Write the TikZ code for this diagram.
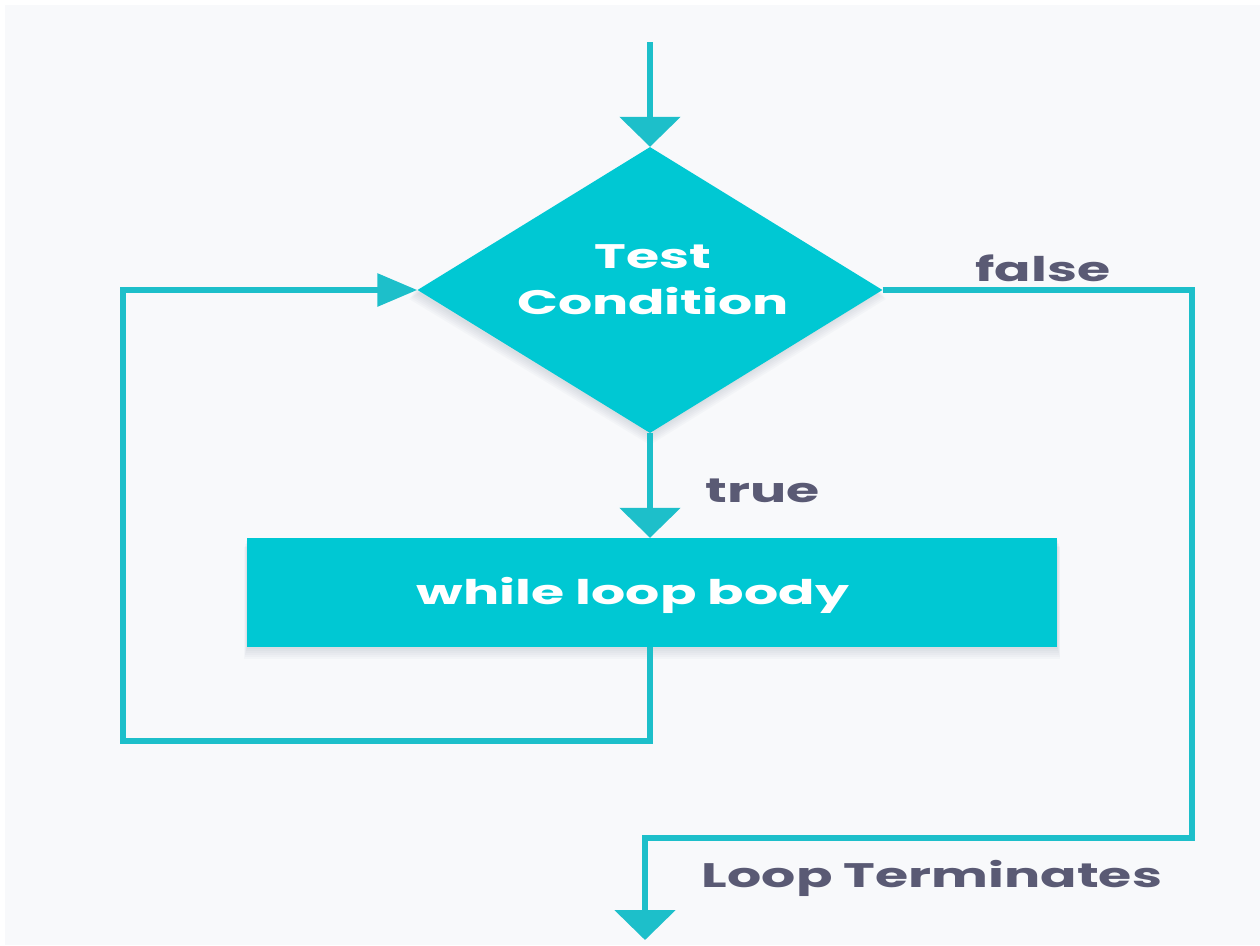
\documentclass[tikz,border=0pt]{standalone}
\usepackage{fontspec}
\setmainfont{Poppins}
\newfontfamily\widefont[FakeStretch=1.58]{Poppins}
\usetikzlibrary{arrows.meta,shapes.geometric}
\definecolor{bg}{HTML}{F8F9FB}
\definecolor{teal}{HTML}{00C8D3}
\definecolor{lineteal}{HTML}{1DBFCA}
\definecolor{lbl}{HTML}{5A5A74}
\definecolor{shade}{HTML}{6A7A8A}
\tikzset{
  flow/.style={draw=lineteal, line width=6pt},
  vhead/.style={-{Triangle[width=60pt,length=30pt]}},
  hhead/.style={-{Triangle[width=32pt,length=40pt]}},
  shadowlayer/.style={fill=shade, fill opacity=0.035},
  cond/.style={diamond, fill=teal, inner sep=0pt, minimum width=465pt, minimum height=286pt},
  body/.style={rectangle, fill=teal, inner sep=0pt, minimum width=810pt, minimum height=109pt},
  intext/.style={text=white, font=\widefont\bfseries\fontsize{34}{46}\selectfont, align=center},
  lab/.style={text=lbl, font=\widefont\bfseries\fontsize{34}{40}\selectfont}
}
\begin{document}
\begin{tikzpicture}[x=1pt,y=-1pt]
\useasboundingbox (0,0) rectangle (1260,945);
\fill[white] (0,0) rectangle (1260,945);
\fill[bg] (5,5) rectangle (1260,945);
% soft shadows
\foreach \k in {1,...,6}{
  \fill[shadowlayer] (650,{147+1.5*\k}) -- ({880+\k},{290+1.5*\k}) -- (650,{433+2*\k}) -- ({415-\k},{290+1.5*\k}) -- cycle;
  \fill[shadowlayer] ({247-0.5*\k},{538+1.5*\k}) rectangle ({1057+0.5*\k},{647+2*\k});
}
\node[cond] (test) at (650,290) {};
\node[intext] (testtxt) at (653,280) {Test\\Condition};
\node[body] (loop) at (652,592.5) {};
\node[intext] (looptxt) at (633,595) {while loop body};
\coordinate (start) at (650,42);
\coordinate (bl) at (650,741);
\coordinate (ll) at (123,741);
\coordinate (tl) at (123,290);
\coordinate (fr) at (1192,290);
\coordinate (fb) at (1192,838);
\coordinate (eb) at (645,838);
\coordinate (end) at (645,940);
\draw[flow,vhead] (start) -- (test.north);
\draw[flow,vhead] (test.south) -- (loop.north -| test.south);
\draw[flow,hhead] (loop.south -| bl) -- (bl) -- (ll) -- (tl) -- (test.west);
\draw[flow,vhead] (test.east) -- (fr) -- (fb) -- (eb) -- (end);
\node[lab] (ltrue) at (763,491) {true};
\node[lab] (lfalse) at (1043,268) {false};
\node[lab] (lterm) at (932,878) {Loop Terminates};
\end{tikzpicture}
\end{document}
